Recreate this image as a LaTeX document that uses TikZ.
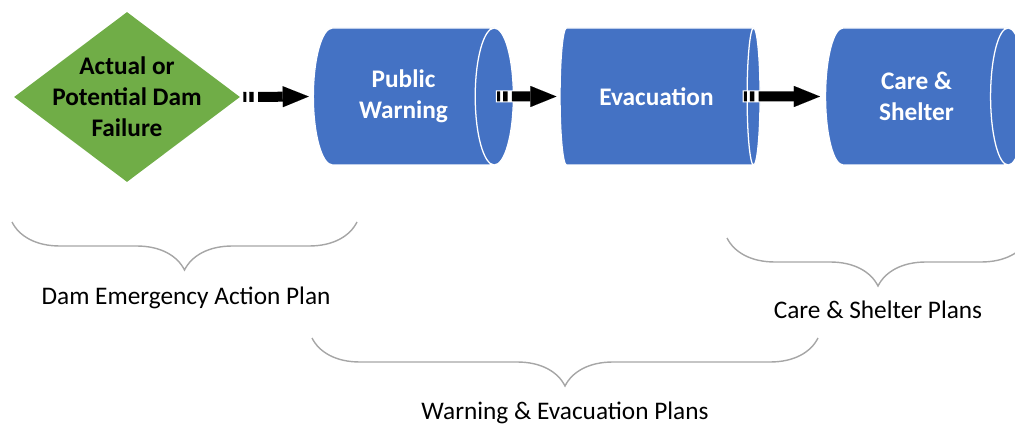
\documentclass[tikz,border=0pt]{standalone}
\usepackage{fontspec}
\setmainfont{Carlito}
\usetikzlibrary{shapes.geometric,arrows.meta,decorations.pathreplacing}
\definecolor{stepblue}{HTML}{4472C4}
\definecolor{damgreen}{HTML}{70AD47}
\definecolor{bracegray}{HTML}{A6A6A6}
\begin{document}
\begin{tikzpicture}[
    stage/.style={cylinder, shape border rotate=0, aspect=0.72, draw=white,
      line width=0.9pt, fill=stepblue, text=white, font=\bfseries,
      align=center, minimum width=3.425cm, minimum height=5cm, inner sep=0pt},
    stripe/.style={line width=0.25cm,
      dash pattern=on 0.075cm off 0.075cm on 0.11cm off 0.11cm on 20cm,
      -{Triangle[length=0.65cm,width=0.525cm,line width=0.01pt]}},
    halo/.style={white, line width=0.3cm, dash pattern=on 0.45cm off 20cm},
    plan/.style={bracegray, line width=1pt,
      decorate, decoration={brace, mirror, amplitude=1.2cm}}]
    \useasboundingbox (0,0) rectangle (25.375,10.675);
    \fontsize{18}{22}\selectfont

    \path (3.175,8.25) node [diamond, fill=damgreen, aspect=1.33, inner sep=0pt,
      minimum width=5.65cm, minimum height=4.25cm,
      label={[align=center, font=\bfseries]center:Actual or\\Potential Dam\\Failure}]
      (fail) {};

    \path (10.0875,8.2625) node [stage] (pw) {Public\\Warning};
    \path (16.4125,8.2625) node [stage] (ev) {Evacuation};
    \path (22.9125,8.2625) node [stage] (cs) {Care \&\\Shelter};

    \draw [stripe, shorten >=0.1cm] ([xshift=0.075cm]fail.east) -- (pw.west);
    \draw [halo] ([xshift=-0.45cm]pw.east) -- (ev.west);
    \draw [stripe, shorten >=0.075cm] ([xshift=-0.42cm]pw.east) -- (ev.west);
    \draw [halo] ([xshift=-0.45cm]ev.east) -- (cs.west);
    \draw [stripe, shorten >=0.125cm] ([xshift=-0.42cm]ev.east) -- (cs.west);

    \coordinate (eap1) at (0.3,5.125);
    \coordinate (eap2) at (8.925,5.125);
    \coordinate (csp1) at (18.175,4.725);
    \coordinate (csp2) at (25.725,4.725);
    \coordinate (wep1) at (7.8,2.225);
    \coordinate (wep2) at (20.45,2.225);
    \draw [plan] (eap1) -- (eap2);
    \draw [plan] (csp1) -- (csp2);
    \draw [plan] (wep1) -- (wep2);

    \path (4.65,3.225)   node (eap) {Dam Emergency Action Plan};
    \path (21.95,2.925)  node (csp) {Care \& Shelter Plans};
    \path (14.125,0.35)  node (wep) {Warning \& Evacuation Plans};
\end{tikzpicture}
\end{document}
